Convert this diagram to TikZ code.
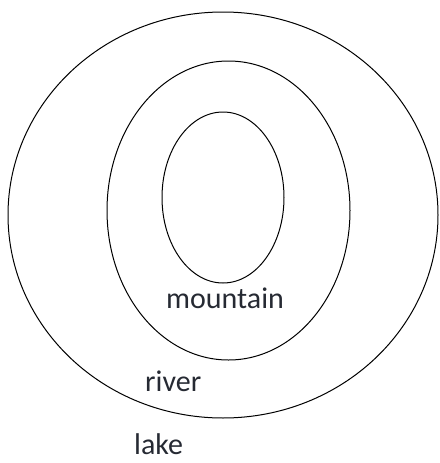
\documentclass[tikz,border=0pt]{standalone}
\usepackage{fontspec}
\setmainfont{Carlito}
\usetikzlibrary{shapes.geometric}
\definecolor{ink}{HTML}{262A33}

\begin{document}
\begin{tikzpicture}[x=1pt, y=-1pt, ring/.style={draw, ellipse, line width=1pt, inner sep=0pt}, tag/.style={anchor=base west, inner sep=0pt, text=ink, font=\fontsize{30}{36}\selectfont}]
\useasboundingbox (0,0) rectangle (439,463);
\node[ring, minimum width=430, minimum height=406] (lakering) at (223,215) {};
\node[ring, minimum width=243, minimum height=299] (riverring) at (228.5,210.5) {};
\node[ring, minimum width=122, minimum height=171] (mountring) at (223,197.5) {};
\node[tag] (mountain) at (166,308) {mountain};
\node[tag] (river) at (145,391) {river};
\node[tag] (lake) at (134,454) {lake};
\end{tikzpicture}
\end{document}
